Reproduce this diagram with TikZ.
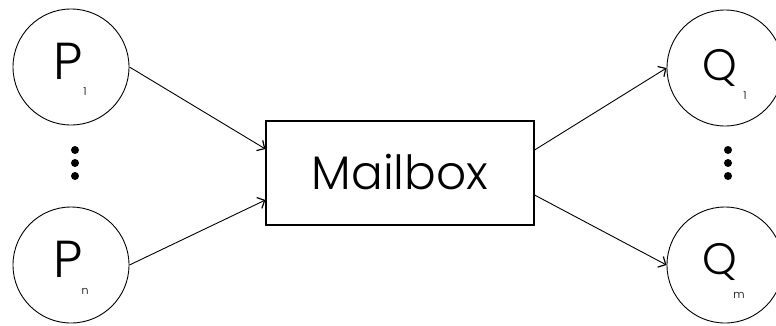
\documentclass[tikz,border=0pt]{standalone}
\usepackage{fontspec}
\IfFontExistsTF{Poppins Light}{\setmainfont{Poppins Light}}{\setmainfont{Poppins}}
\usetikzlibrary{arrows.meta}
\begin{document}
\begin{tikzpicture}[x=1pt,y=-1pt,
  proc/.style={circle,draw,line width=0.9pt,minimum size=116pt,inner sep=0pt},
  mbox/.style={rectangle,draw,line width=1.1pt,minimum width=268pt,minimum height=104pt,inner sep=0pt},
  big/.style={font=\fontsize{52}{52}\selectfont,inner sep=0pt},
  qbig/.style={font=\fontsize{44}{44}\selectfont,inner sep=0pt},
  mid/.style={font=\fontsize{47}{47}\selectfont,inner sep=0pt},
  sub/.style={font=\fontsize{11}{11}\selectfont,inner sep=0pt},
  dot/.style={circle,fill,inner sep=0pt,minimum size=8pt},
  arr/.style={line width=0.9pt,-{Straight Barb[length=6pt,width=12pt,line width=1.2pt]}}]
\useasboundingbox (0,0) rectangle (776,325);
\node[proc] (p1) at (71,67) {};
\node[proc] (pn) at (71,265) {};
\node[proc] (q1) at (725,68) {};
\node[proc] (qm) at (725,265) {};
\node[big] (p1t) at (68,61) {P};
\node[big] (pnt) at (68,259) {P};
\node[qbig] (q1t) at (720,68) {Q};
\node[qbig] (qmt) at (720,262) {Q};
\node[sub] (p1s) at (85,92) {1};
\node[sub] (pns) at (85,291) {n};
\node[sub] (q1s) at (745,96) {1};
\node[sub] (qms) at (739,295) {m};
\node[dot] (ld1) at (75,150) {};
\node[dot] (ld2) at (75,163) {};
\node[dot] (ld3) at (75,176) {};
\node[dot] (rd1) at (728,150) {};
\node[dot] (rd2) at (728,163) {};
\node[dot] (rd3) at (728,176) {};
\node[mbox] (mb) at (400,173) {};
\node[mid] (mbt) at (400,172) {Mailbox};
\draw[arr] (p1.east) -- ([yshift=24pt]mb.west);
\draw[arr] (pn.east) -- ([yshift=-27pt]mb.west);
\draw[arr] ([yshift=23pt]mb.east) -- (q1.west);
\draw[arr] ([yshift=-22pt]mb.east) -- (qm.west);
\end{tikzpicture}
\end{document}
